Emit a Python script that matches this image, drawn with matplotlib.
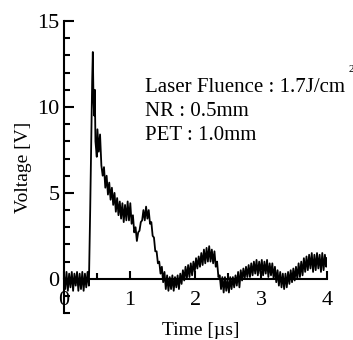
import matplotlib
matplotlib.use('Agg')
import matplotlib.pyplot as plt
from matplotlib.ticker import MultipleLocator

plt.rcParams['font.family'] = ['Liberation Serif', 'DejaVu Serif']

# waveform (time in us, voltage in V)
time_us = [0.00, 0.02, 0.04, 0.06, 0.08, 0.10, 0.12, 0.14, 0.16, 0.18, 0.20, 0.22, 0.24, 0.26, 0.28,
           0.30, 0.32, 0.34, 0.36, 0.38,
           0.40, 0.43, 0.44, 0.45, 0.46, 0.47, 0.48, 0.50, 0.51, 0.53, 0.55, 0.57, 0.59, 0.61, 0.63,
           0.65, 0.67, 0.69, 0.71, 0.73, 0.75, 0.77, 0.79, 0.81, 0.83, 0.85, 0.87, 0.89, 0.91, 0.93,
           0.95, 0.97, 0.99, 1.01, 1.03, 1.05, 1.07, 1.09, 1.11, 1.13, 1.15, 1.17, 1.19, 1.21, 1.23,
           1.25, 1.27, 1.29, 1.31, 1.33, 1.35, 1.37, 1.39, 1.41, 1.43, 1.45, 1.47, 1.49, 1.51, 1.53,
           1.55, 1.57, 1.59, 1.61, 1.63, 1.65, 1.67, 1.69, 1.71, 1.73, 1.75, 1.77, 1.79, 1.81, 1.83,
           1.85, 1.87, 1.89, 1.91, 1.93, 1.95, 1.97, 1.99, 2.01, 2.03, 2.05, 2.07, 2.09, 2.11, 2.13,
           2.15, 2.17, 2.19, 2.21, 2.23, 2.25, 2.27, 2.29, 2.31, 2.33, 2.35, 2.37, 2.39, 2.41, 2.43,
           2.45, 2.47, 2.49, 2.51, 2.53, 2.55, 2.57, 2.59, 2.61, 2.63, 2.65, 2.67, 2.69, 2.71, 2.73,
           2.75, 2.77, 2.79, 2.81, 2.83, 2.85, 2.87, 2.89, 2.91, 2.93, 2.95, 2.97, 2.99, 3.01, 3.03,
           3.05, 3.07, 3.09, 3.11, 3.13, 3.15, 3.17, 3.19, 3.21, 3.23, 3.25, 3.27, 3.29, 3.31, 3.33,
           3.35, 3.37, 3.39, 3.41, 3.43, 3.45, 3.47, 3.49, 3.51, 3.53, 3.55, 3.57, 3.59, 3.61, 3.63,
           3.65, 3.67, 3.69, 3.71, 3.73, 3.75, 3.77, 3.79, 3.81, 3.83, 3.85, 3.87, 3.89, 3.91, 3.93,
           3.95, 3.97, 3.99, 4.00]
voltage = [0.3, -0.6, 0.4, -0.7, 0.3, -0.5, 0.4, -0.7, 0.3, -0.4, 0.4, -0.7, 0.3, -0.6, 0.4,
           -0.7, 0.3, -0.5, 0.4, -0.4,
           4.0, 11.5, 13.2, 10.5, 9.5, 11.0, 8.0, 7.1, 8.7, 7.4, 8.4, 6.6, 6.0, 6.5, 5.3,
           6.0, 4.9, 5.6, 4.6, 5.3, 4.3, 5.0, 3.9, 4.7, 3.7, 4.5, 3.5, 4.4, 3.3, 4.3,
           3.4, 4.5, 3.4, 4.4, 3.2, 3.7, 2.7, 3.0, 2.2, 2.7, 2.8, 3.3, 3.4, 4.0, 3.4,
           4.2, 3.5, 4.0, 3.2, 3.3, 2.5, 2.4, 1.6, 1.6, 0.9, 1.0, 0.3, 0.7, -0.2, 0.4,
           -0.6, 0.2, -0.7, 0.1, -0.6, 0.2, -0.7, 0.1, -0.5, 0.2, -0.6, 0.3, -0.3, 0.5, -0.1,
           0.7, 0.0, 0.8, 0.1, 0.9, 0.2, 1.0, 0.4, 1.2, 0.6, 1.3, 0.7, 1.5, 0.8, 1.7,
           0.9, 1.8, 1.0, 1.9, 1.0, 1.7, 0.9, 1.6, 0.7, 1.0, 0.1, 0.2, -0.6, 0.1, -0.8,
           0.1, -0.7, 0.0, -0.8, 0.1, -0.6, 0.1, -0.5, 0.2, -0.4, 0.4, -0.5, 0.5, -0.1, 0.6,
           0.0, 0.7, 0.1, 0.8, 0.1, 0.9, 0.2, 1.0, 0.3, 1.1, 0.2, 1.0, 0.3, 1.1, 0.2,
           1.0, 0.3, 1.1, 0.1, 0.9, 0.2, 0.9, 0.0, 0.7, -0.2, 0.5, -0.4, 0.4, -0.5, 0.3,
           -0.6, 0.3, -0.5, 0.4, -0.3, 0.5, -0.2, 0.6, -0.1, 0.7, 0.0, 0.9, 0.1, 1.0, 0.2,
           1.2, 0.4, 1.3, 0.5, 1.4, 0.6, 1.5, 0.4, 1.4, 0.5, 1.5, 0.6, 1.4, 0.4, 1.5,
           0.5, 1.4, 0.7, 1.2]

info_lines = ['Laser Fluence : 1.7J/cm', 'NR : 0.5mm', 'PET : 1.0mm']

fig = plt.figure(figsize=(3.53, 3.40), dpi=100)
ax = fig.add_axes([0.181, 0.079, 0.745, 0.859])

ax.plot(time_us, voltage, color='black', linewidth=1.3)

ax.set_xlim(0, 4)
ax.set_ylim(-2, 15)
ax.spines['top'].set_visible(False)
ax.spines['right'].set_visible(False)
ax.spines['bottom'].set_position(('data', 0))
ax.spines['left'].set_linewidth(1.5)
ax.spines['bottom'].set_linewidth(1.5)

ax.xaxis.set_major_locator(MultipleLocator(1))
ax.xaxis.set_minor_locator(MultipleLocator(0.5))
ax.yaxis.set_major_locator(MultipleLocator(5))
ax.yaxis.set_minor_locator(MultipleLocator(1))
ax.tick_params(axis='both', which='both', direction='in', width=1.5)
ax.tick_params(axis='y', which='major', length=7, pad=3, labelsize=16)
ax.tick_params(axis='y', which='minor', length=4)
ax.tick_params(axis='x', which='major', length=6, pad=9, labelsize=16)
ax.tick_params(axis='x', which='minor', length=4)

ax.set_xlabel('Time [\u00b5s]', fontsize=14, labelpad=0)
ax.xaxis.set_label_coords(0.52, -0.03)
ax.set_ylabel('Voltage [V]', fontsize=14, labelpad=4)

for i, line in enumerate(info_lines):
    ax.text(1.23, 10.9 - 1.4 * i, line, fontsize=15, va='baseline', ha='left')
ax.text(4.33, 12.2, '2', fontsize=8, va='center', ha='left', clip_on=False)

fig.savefig('out.png', dpi=100)
